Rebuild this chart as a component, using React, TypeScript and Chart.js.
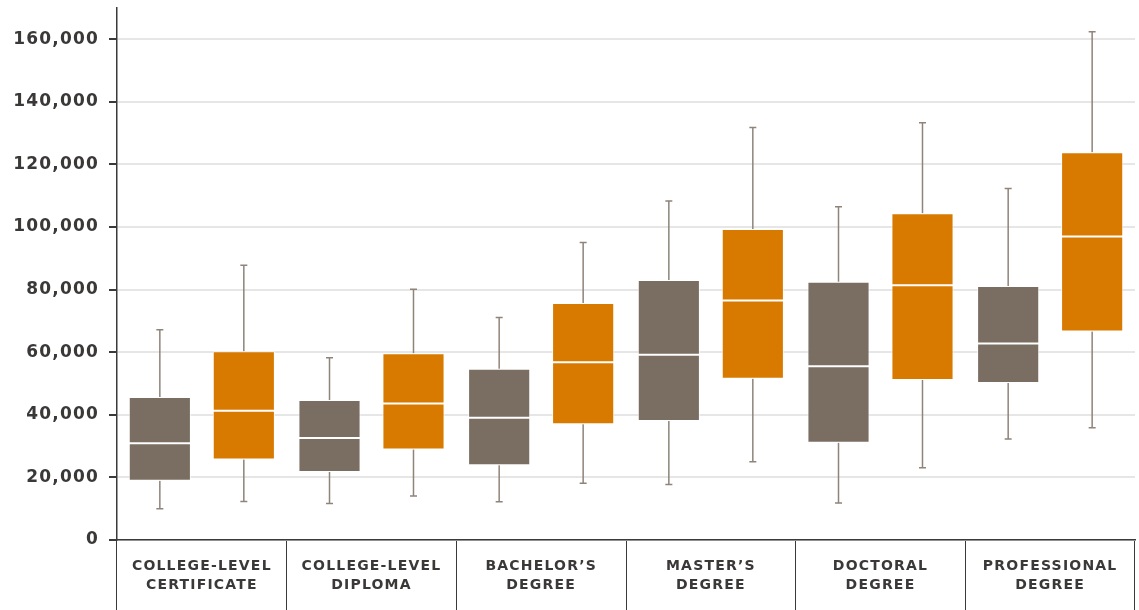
import React, { useEffect, useRef } from 'react';
import { Chart, registerables } from 'chart.js';
Chart.register(...registerables);

const categories: string[][] = [
  ['COLLEGE-LEVEL', 'CERTIFICATE'],
  ['COLLEGE-LEVEL', 'DIPLOMA'],
  ['BACHELOR\u2019S', 'DEGREE'],
  ['MASTER\u2019S', 'DEGREE'],
  ['DOCTORAL', 'DEGREE'],
  ['PROFESSIONAL', 'DEGREE'],
];

const greyMin = [10000, 11700, 12200, 17700, 11800, 32300];
const greyQ1 = [18900, 21700, 23900, 38000, 31100, 50200];
const greyMedian = [30900, 32600, 39100, 59200, 55500, 62800];
const greyQ3 = [45700, 44700, 54700, 83100, 82500, 81200];
const greyMax = [67200, 58200, 71100, 108300, 106500, 112300];

const orangeMin = [12300, 14100, 18100, 25000, 23100, 35900];
const orangeQ1 = [25700, 28900, 37000, 51500, 51100, 66600];
const orangeMedian = [41300, 43600, 56800, 76500, 81400, 97000];
const orangeQ3 = [60300, 59700, 75700, 99400, 104400, 123900];
const orangeMax = [87800, 80100, 95100, 131800, 133300, 162400];

const yTickValues = [0, 20000, 40000, 60000, 80000, 100000, 120000, 140000, 160000];

const GREY = '#7a6e63';
const ORANGE = '#d97a00';
const WHISKER = '#8f847a';

const spacingPlugin = {
  id: 'letterSpacing',
  beforeDraw(chart: any) {
    chart.ctx.letterSpacing = '1.2px';
  },
  afterDraw(chart: any) {
    chart.ctx.letterSpacing = '0px';
  },
};

const boxPlugin = {
  id: 'boxWhiskers',
  beforeDatasetsDraw(chart: any) {
    const ctx = chart.ctx;
    const yScale = chart.scales.y;
    chart.data.datasets.forEach((ds: any, di: number) => {
      const meta = chart.getDatasetMeta(di);
      meta.data.forEach((bar: any, i: number) => {
        const x = bar.x;
        const yMin = yScale.getPixelForValue(ds.whiskerMin[i]);
        const yMax = yScale.getPixelForValue(ds.whiskerMax[i]);
        const yQ1 = yScale.getPixelForValue(ds.data[i][0]);
        const yQ3 = yScale.getPixelForValue(ds.data[i][1]);
        ctx.save();
        ctx.strokeStyle = WHISKER;
        ctx.lineWidth = 1.5;
        ctx.beginPath();
        ctx.moveTo(x, yQ3);
        ctx.lineTo(x, yMax);
        ctx.moveTo(x, yQ1);
        ctx.lineTo(x, yMin);
        ctx.moveTo(x - 3.5, yMax);
        ctx.lineTo(x + 3.5, yMax);
        ctx.moveTo(x - 3.5, yMin);
        ctx.lineTo(x + 3.5, yMin);
        ctx.stroke();
        ctx.restore();
      });
    });
  },
  afterDatasetsDraw(chart: any) {
    const ctx = chart.ctx;
    const yScale = chart.scales.y;
    chart.data.datasets.forEach((ds: any, di: number) => {
      const meta = chart.getDatasetMeta(di);
      meta.data.forEach((bar: any, i: number) => {
        const y = yScale.getPixelForValue(ds.median[i]);
        const half = bar.width / 2;
        ctx.save();
        ctx.strokeStyle = '#ffffff';
        ctx.lineWidth = 2;
        ctx.beginPath();
        ctx.moveTo(bar.x - half, y);
        ctx.lineTo(bar.x + half, y);
        ctx.stroke();
        ctx.restore();
      });
    });
  },
};

export default function App() {
  const ref = useRef<HTMLCanvasElement | null>(null);
  useEffect(() => {
    if (!ref.current) return;
    const chart = new Chart(ref.current, {
      type: 'bar',
      data: {
        labels: categories,
        datasets: [
          {
            label: 'Grey',
            data: greyQ1.map((q, i) => [q, greyQ3[i]]),
            backgroundColor: GREY,
            borderColor: 'rgba(255,255,255,0.75)',
            borderWidth: 1,
            borderSkipped: false,
            whiskerMin: greyMin,
            whiskerMax: greyMax,
            median: greyMedian,
          } as any,
          {
            label: 'Orange',
            data: orangeQ1.map((q, i) => [q, orangeQ3[i]]),
            backgroundColor: ORANGE,
            borderColor: 'rgba(255,255,255,0.75)',
            borderWidth: 1,
            borderSkipped: false,
            whiskerMin: orangeMin,
            whiskerMax: orangeMax,
            median: orangeMedian,
          } as any,
        ],
      },
      options: {
        animation: false,
        responsive: true,
        maintainAspectRatio: false,
        layout: { padding: { top: 8, right: 4, left: 0, bottom: 0 } },
        datasets: { bar: { categoryPercentage: 0.99, barPercentage: 0.74 } },
        plugins: { legend: { display: false }, tooltip: { enabled: false } },
        scales: {
          x: {
            offset: true,
            grid: {
              offset: true,
              drawOnChartArea: false,
              tickLength: 70,
              color: '#3a3a3a',
              tickColor: '#3a3a3a',
              lineWidth: 1,
            },
            border: { color: '#3a3a3a', width: 1.5 },
            ticks: {
              color: '#3b3838',
              padding: -53,
              maxRotation: 0,
              autoSkip: false,
              font: { family: 'DejaVu Sans', size: 14, weight: 'bold', lineHeight: 1.35 },
            },
            afterFit: (scale: any) => {
              scale.height = 70;
              scale.paddingLeft = 0;
              scale.paddingRight = 0;
            },
          },
          y: {
            min: 0,
            max: 170000,
            afterBuildTicks: (scale: any) => {
              scale.ticks = yTickValues.map((v) => ({ value: v }));
            },
            grid: {
              color: '#e6e6e6',
              lineWidth: 2,
              tickColor: '#3a3a3a',
              tickLength: 8,
            },
            border: { color: '#3a3a3a', width: 1.5 },
            ticks: {
              color: '#3b3838',
              padding: 10,
              font: { family: 'DejaVu Sans', size: 17, weight: 'bold' },
              callback: (v: any) => Number(v).toLocaleString('en-US'),
            },
            afterFit: (scale: any) => {
              scale.width = 117;
              scale.paddingTop = 0;
              scale.paddingBottom = 0;
            },
          },
        },
      } as any,
      plugins: [spacingPlugin, boxPlugin],
    });
    return () => chart.destroy();
  }, []);
  return (
    <div style={{ position: 'fixed', left: 0, top: 0, width: 1139, height: 610, background: '#fff' }}>
      <canvas ref={ref} />
    </div>
  );
}
